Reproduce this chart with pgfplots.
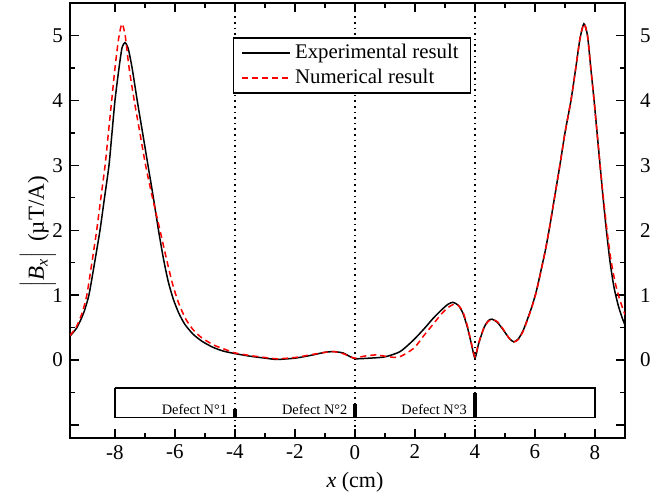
\documentclass[border=0pt]{standalone}
\usepackage{fontspec}
\setmainfont{Liberation Serif}
\usepackage{pgfplots}
\pgfplotsset{compat=1.18}
\usepackage{pgfplotstable}

\pgfplotstableread{
x y
-9.5 0.37
-9.27 0.5
-9.05 0.72
-8.87 1.0
-8.68 1.5
-8.5 2.0
-8.35 2.5
-8.2 3.0
-8.1 3.5
-8.0 4.0
-7.88 4.45
-7.77 4.8
-7.67 4.89
-7.56 4.8
-7.43 4.5
-7.26 4.0
-7.08 3.5
-6.9 3.0
-6.72 2.5
-6.55 2.0
-6.38 1.55
-6.22 1.2
-6.05 0.93
-5.87 0.72
-5.67 0.55
-5.4 0.4
-5.1 0.29
-4.75 0.2
-4.4 0.14
-4.0 0.1
-3.5 0.06
-3.0 0.03
-2.6 0.01
-2.0 0.03
-1.5 0.07
-1.0 0.12
-0.7 0.13
-0.4 0.11
-0.15 0.05
0.0 0.02
0.5 0.03
1.0 0.05
1.5 0.13
1.93 0.3
2.3 0.48
2.6 0.64
2.9 0.78
3.1 0.86
3.27 0.89
3.45 0.84
3.6 0.72
3.75 0.5
3.88 0.25
4.0 0.03
4.12 0.25
4.3 0.5
4.45 0.61
4.57 0.63
4.75 0.58
4.95 0.46
5.15 0.33
5.3 0.28
5.45 0.33
5.6 0.45
5.75 0.63
5.9 0.83
6.05 1.07
6.2 1.38
6.35 1.7
6.5 2.08
6.65 2.5
6.83 3.0
7.0 3.5
7.2 4.0
7.36 4.5
7.5 4.95
7.63 5.18
7.75 5.0
7.86 4.5
7.97 4.0
8.07 3.5
8.17 3.0
8.27 2.5
8.38 2.0
8.5 1.52
8.63 1.13
8.77 0.85
8.9 0.66
9.0 0.54
}\exper

\pgfplotstableread{
x y
-9.5 0.38
-9.3 0.5
-9.1 0.72
-8.94 1.0
-8.77 1.5
-8.61 2.0
-8.47 2.5
-8.33 3.0
-8.22 3.5
-8.11 4.0
-8.0 4.5
-7.88 4.95
-7.77 5.18
-7.66 5.0
-7.53 4.5
-7.36 4.0
-7.17 3.5
-6.98 3.0
-6.75 2.5
-6.5 2.0
-6.28 1.55
-6.08 1.17
-5.88 0.88
-5.65 0.64
-5.4 0.47
-5.1 0.34
-4.7 0.23
-4.3 0.16
-4.0 0.11
-3.5 0.07
-3.0 0.04
-2.6 0.02
-2.0 0.04
-1.5 0.08
-1.0 0.12
-0.7 0.13
-0.4 0.1
-0.15 0.05
0.0 0.03
0.3 0.06
0.7 0.08
1.0 0.06
1.4 0.04
1.7 0.1
2.0 0.2
2.3 0.38
2.6 0.55
2.9 0.72
3.1 0.81
3.3 0.86
3.45 0.84
3.6 0.74
3.75 0.52
3.88 0.26
4.0 0.05
4.12 0.26
4.3 0.5
4.45 0.6
4.6 0.62
4.75 0.59
4.95 0.47
5.15 0.33
5.3 0.28
5.45 0.32
5.6 0.44
5.75 0.62
5.9 0.82
6.05 1.06
6.2 1.37
6.35 1.7
6.5 2.08
6.65 2.5
6.83 3.0
7.0 3.5
7.2 4.0
7.36 4.5
7.5 4.95
7.63 5.18
7.75 5.0
7.86 4.5
7.97 4.0
8.07 3.5
8.17 3.0
8.28 2.5
8.4 2.0
8.53 1.55
8.67 1.2
8.8 0.97
8.9 0.83
9.0 0.7
}\numer

\begin{document}
\begin{tikzpicture}
\pgfplotsset{
  common/.style={
    width=277.5pt, height=217.5pt, scale only axis,
    xmin=-9.5, xmax=9, ymin=-1.2, ymax=5.5,
    /pgf/number format/assume math mode=true,
    tick label style={font=\fontsize{10.5}{12.6}\selectfont},
  }
}
\begin{axis}[common,
  axis line style={line width=0.8pt},
  every tick/.style={black, line width=0.7pt},
  tick align=inside,
  major tick length=4.5pt, minor tick length=2.5pt,
  xtick={-8,-6,...,8}, minor x tick num=1,
  ytick={-1,0,1,2,3,4,5}, yticklabels={,0,1,2,3,4,5}, minor y tick num=1,
  xtick pos=both, ytick pos=both,
  xticklabel pos=lower, yticklabel pos=left,
  xlabel={\textit{x} (cm)},
  ylabel={$\Big|$\textit{B}\textsubscript{\textit{x}}$\Big|$\;\,(µT/A)},
  every axis x label/.style={at={(rel axis cs:0.5135,0)}, anchor=center, yshift=-22pt, font=\fontsize{11}{13}\selectfont},
  every axis y label/.style={at={(rel axis cs:0,0.474)}, rotate=90, anchor=center, yshift=16pt, font=\fontsize{11.5}{13}\selectfont},
  legend style={at={(0.2935,0.921)}, anchor=north west, draw=black, line width=0.7pt,
    font=\fontsize{10.4}{12}\selectfont, inner xsep=4pt, inner ysep=1pt, row sep=0pt,
    cells={anchor=west}},
  legend image code/.code={\draw[#1] (0pt,0pt) -- (24pt,0pt);},
]
\coordinate (SW) at (rel axis cs:0,0);
\addplot[black, dotted, line width=0.8pt, forget plot] coordinates {(-4,-1.2) (-4,5.5)};
\addplot[black, dotted, line width=0.8pt, forget plot] coordinates {(0,-1.2) (0,5.5)};
\addplot[black, dotted, line width=0.8pt, forget plot] coordinates {(4,-1.2) (4,5.5)};
\addplot[black, line width=0.75pt, smooth, tension=0.4] table {\exper};
\addlegendentry{Experimental result}
\addplot[red, line width=0.75pt, dash pattern=on 3pt off 2pt, smooth, tension=0.4] table {\numer};
\addlegendentry{Numerical result}
\addplot[black, line width=0.6pt, forget plot] coordinates {(-8,-0.43) (8,-0.43) (8,-0.88) (-8,-0.88) (-8,-0.43)};
\addplot[black, line width=2pt, forget plot] coordinates {(-4,-0.88) (-4,-0.76)};
\addplot[black, line width=2pt, forget plot] coordinates {(0,-0.88) (0,-0.67)};
\addplot[black, line width=2pt, forget plot] coordinates {(4,-0.88) (4,-0.50)};
\node[anchor=east, font=\fontsize{7.2}{8}\selectfont, inner sep=0pt] at (axis cs:-4.25,-0.76) {Defect N°1};
\node[anchor=east, font=\fontsize{7.2}{8}\selectfont, inner sep=0pt] at (axis cs:-0.24,-0.76) {Defect N°2};
\node[anchor=east, font=\fontsize{7.2}{8}\selectfont, inner sep=0pt] at (axis cs:3.74,-0.76) {Defect N°3};
\end{axis}
\begin{axis}[common,
  axis x line=none, axis y line*=right,
  y axis line style={draw=none},
  ytick={0,1,2,3,4,5}, major tick length=0pt, minor tick num=0,
  yticklabel style={xshift=4pt},
]
\addplot[draw=none] coordinates {(0,0)};
\end{axis}
\pgfresetboundingbox
\path[use as bounding box] ([shift={(-35pt,-29.5pt)}]SW) rectangle ++(334pt,248.5pt);
\end{tikzpicture}
\end{document}
